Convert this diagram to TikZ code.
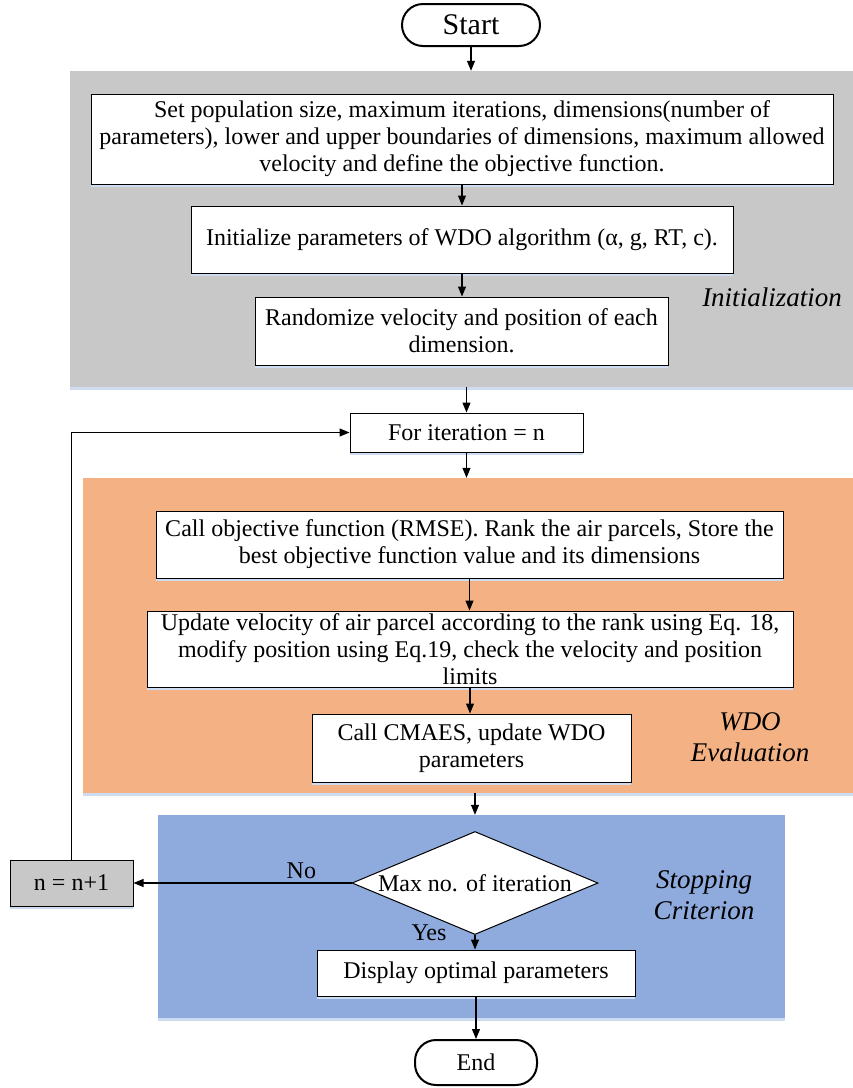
\documentclass[tikz,border=0pt]{standalone}
\usepackage{fontspec}
\setmainfont{Liberation Serif}
\usetikzlibrary{arrows.meta,shapes.geometric,shadows}
\definecolor{initgray}{RGB}{200,200,200}
\definecolor{wdoorange}{RGB}{244,177,131}
\definecolor{stopblue}{RGB}{143,170,220}
\definecolor{shadowblue}{RGB}{205,220,240}
\begin{document}
\begin{tikzpicture}[x=1pt,y=-1pt,
  every node/.style={font=\fontsize{24}{27}\selectfont},
  region/.style={inner sep=0pt, drop shadow={shadow xshift=0pt, shadow yshift=-3pt, fill=shadowblue, opacity=1}},
  box/.style={draw, fill=white, line width=1pt, align=center, inner sep=2pt,
    drop shadow={shadow xshift=0pt, shadow yshift=-3pt, fill=shadowblue, opacity=1}},
  pill/.style={draw, fill=white, line width=2pt, rounded corners=21pt, align=center, inner sep=0pt},
  arr/.style={-{Triangle[length=10pt,width=8pt]}, line width=1.1pt},
  lbl/.style={font=\fontsize{27}{30.5}\selectfont\itshape, align=center},
  plain/.style={font=\fontsize{24}{27}\selectfont}
]
\useasboundingbox (0,0) rectangle (853,1088);
\fill[white] (0,0) rectangle (853,1088);
% regions
\node[region, fill=initgray, minimum width=783pt, minimum height=316pt] (init) at (461.5,229) {};
\node[region, fill=wdoorange, minimum width=770pt, minimum height=315pt] (wdo) at (468,635.5) {};
\node[region, fill=stopblue, minimum width=627pt, minimum height=203pt] (stop) at (471.5,916.5) {};
% nodes
\node[pill, font=\fontsize{30}{32}\selectfont, minimum width=138pt, minimum height=42pt] (start) at (471,25) {Start};
\node[box, minimum width=742pt, minimum height=90pt] (b1) at (462,139) {Set population size, maximum iterations, dimensions(number of\\parameters), lower and upper boundaries of dimensions, maximum allowed\\velocity and define the objective function.};
\node[box, minimum width=542pt, minimum height=67pt] (b2) at (462,239.5) {Initialize parameters of WDO algorithm (α, g, RT, c).};
\node[box, minimum width=413pt, minimum height=68pt] (b3) at (461.5,331) {Randomize velocity and position of each\\dimension.};
\node[lbl] (linit) at (772,297) {Initialization};
\node[box, minimum width=233pt, minimum height=39pt] (forbox) at (466.5,432.5) {For iteration = n};
\node[box, minimum width=627pt, minimum height=67pt] (b4) at (469.5,544.5) {Call objective function (RMSE). Rank the air parcels, Store the\\best objective function value and its dimensions};
\node[box, minimum width=646pt, minimum height=76pt] (b5) at (470,649) {Update velocity of air parcel according to the rank using Eq. 18,\\modify position using Eq.19, check the velocity and position\\limits};
\node[box, minimum width=319pt, minimum height=68pt] (b6) at (471.5,748) {Call CMAES, update WDO\\parameters};
\node[lbl] (lwdo) at (750,737) {WDO\\Evaluation};
\node[diamond, draw, fill=white, line width=1pt, minimum width=246pt, minimum height=103pt, inner sep=0pt] (dec) at (475,883) {\makebox[0pt]{Max no. of iteration}};
\node[box, fill=initgray, minimum width=123pt, minimum height=46pt] (nbox) at (71.5,883) {n = n+1};
\node[lbl] (lstop) at (704,895) {Stopping\\Criterion};
\node[box, minimum width=318pt, minimum height=46pt] (disp) at (476,973) {Display optimal parameters};
\node[pill, minimum width=122pt, minimum height=45pt] (end) at (476,1062.5) {End};
% connectors
\draw[arr] (start.south) -- (start.south |- init.north);
\draw[arr] (b1.south) -- (b1.south |- b2.north);
\draw[arr] (b2.south) -- (b2.south |- b3.north);
\draw[arr] (forbox.north |- init.south) -- (forbox.north);
\draw[arr] (forbox.south) -- (forbox.south |- wdo.north);
\draw[arr] (b4.south) -- (b4.south |- b5.north);
\draw[arr] (b5.south) -- (b5.south |- b6.north);
\draw[arr] (dec.north |- wdo.south) -- (dec.north |- stop.north);
\draw[arr] (dec.west) -- node[plain, above, pos=0.23] (no) {No} (nbox.east);
\draw[arr] (nbox.north) -- (nbox.north |- forbox.west) -- (forbox.west);
\draw[arr] (dec.south) -- (dec.south |- disp.north);
\node[plain] (yes) at (429,933) {Yes};
\draw[arr] (disp.south) -- (disp.south |- end.north);
\end{tikzpicture}
\end{document}
